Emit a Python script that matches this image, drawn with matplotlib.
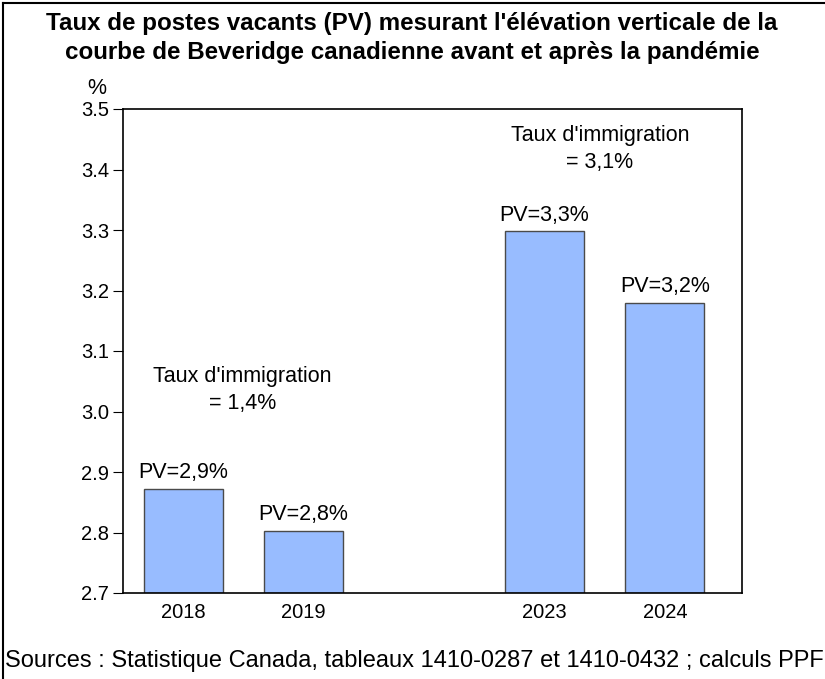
import matplotlib.pyplot as plt
from matplotlib.lines import Line2D

plt.rcParams['font.family'] = ['Liberation Sans', 'DejaVu Sans']

years = ["2018", "2019", "2023", "2024"]
positions = [0, 1, 3, 4]
pv = [2.872, 2.803, 3.298, 3.180]
pv_labels = ["PV=2,9%", "PV=2,8%", "PV=3,3%", "PV=3,2%"]
yticks = [2.7, 2.8, 2.9, 3.0, 3.1, 3.2, 3.3, 3.4, 3.5]

fig = plt.figure(figsize=(8.25, 6.79), dpi=100)
ax = fig.add_axes([123/825, 1-593/679, (742-123)/825, (593-109)/679])

bars = ax.bar(positions, [v - 2.7 for v in pv], bottom=2.7, width=0.655,
              color="#98bcff", edgecolor="#4a4a4a", linewidth=1)
for x, v, lab in zip(positions, pv, pv_labels):
    ax.annotate(lab, (x, v), xytext=(0, 4), textcoords="offset points",
                ha="center", va="bottom", fontsize=15.5)

ax.set_xlim(-0.5, 4.64)
ax.set_ylim(2.7, 3.5)
ax.set_yticks(yticks)
ax.set_yticklabels([f"{t:.1f}" for t in yticks], fontsize=14.5)
ax.set_xticks(positions)
ax.set_xticklabels(years, fontsize=14.5)
ax.tick_params(axis="x", length=0, pad=7)
ax.tick_params(axis="y", length=7, direction="out", pad=3)
for s in ax.spines.values():
    s.set_linewidth(1.2)

ax.text(0.49, 3.036, "Taux d'immigration\n= 1,4%", ha="center", va="center",
        fontsize=15.5, multialignment="center", linespacing=1.35)
ax.text(3.46, 3.434, "Taux d'immigration\n= 3,1%", ha="center", va="center",
        fontsize=15.5, multialignment="center", linespacing=1.35)

fig.text(97/825, 1-89/679, "%", ha="center", va="center", fontsize=15.5)
fig.text(412/825, 1-38/679,
         "Taux de postes vacants (PV) mesurant l'élévation verticale de la\n"
         "courbe de Beveridge canadienne avant et après la pandémie",
         ha="center", va="center", fontsize=17.4, fontweight="bold", linespacing=1.28)
fig.text(5/825, 1-661/679,
         "Sources : Statistique Canada, tableaux 1410-0287 et 1410-0432 ; calculs PPF",
         ha="left", va="center", fontsize=17)

# cadre
fig.add_artist(Line2D([3/825, 3/825], [0, 1-3/679], color="black", lw=1.5))
fig.add_artist(Line2D([3/825, 1], [1-3/679, 1-3/679], color="black", lw=1.5))

fig.savefig("out.png", dpi=100)
